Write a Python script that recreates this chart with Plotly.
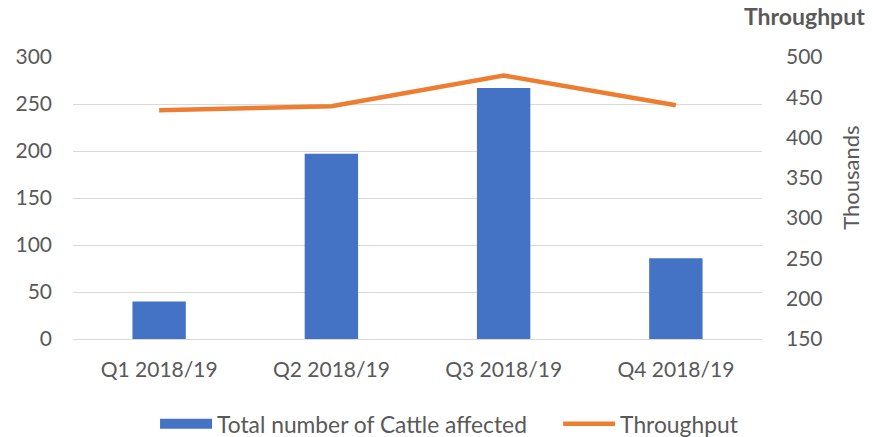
import plotly.graph_objects as go

categories = ["Q1 2018/19", "Q2 2018/19", "Q3 2018/19", "Q4 2018/19"]
cattle_affected = [40, 197, 267, 86]
throughput_thousands = [434, 439, 477, 440]

GREY = "#595959"
FONT = "Lato"
BLUE = "#4472C4"
ORANGE = "#ED7D31"

fig = go.Figure()
fig.add_trace(go.Bar(
    x=categories, y=cattle_affected, name="Total number of Cattle affected",
    marker=dict(color=BLUE, line=dict(width=0)), width=0.31, yaxis="y",
    showlegend=False, legendgroup="cattle"))
# legend entry with a wide rectangular swatch for the bar series
fig.add_trace(go.Scatter(
    x=[None], y=[None], name="Total number of Cattle affected", mode="lines",
    line=dict(color=BLUE, width=13), legend="legend", legendgroup="cattle"))
fig.add_trace(go.Scatter(
    x=categories, y=throughput_thousands, name="Throughput", mode="lines",
    line=dict(color=ORANGE, width=4.5), yaxis="y2", legend="legend2"))

legend_common = dict(orientation="h", xref="container", yref="container",
                     xanchor="left", y=0.0297, yanchor="middle",
                     font=dict(size=22.8, color=GREY), itemwidth=52,
                     bgcolor="rgba(0,0,0,0)", borderwidth=0)

fig.update_layout(
    width=873, height=437,
    margin=dict(l=73, r=111, t=57, b=98, autoexpand=False),
    paper_bgcolor="white", plot_bgcolor="white",
    font=dict(family=FONT, size=21, color=GREY),
    showlegend=True,
    legend=dict(x=0.1776, **legend_common),
    legend2=dict(x=0.6393, **legend_common),
    xaxis=dict(showgrid=False, showline=False, ticks="", ticklabelstandoff=16, automargin=False,
               tickfont=dict(size=21, color=GREY)),
    yaxis=dict(range=[0, 300], dtick=50, showgrid=True, gridcolor="#d9d9d9", gridwidth=1.3,
               zeroline=True, zerolinecolor="#d9d9d9", zerolinewidth=1.3, automargin=False,
               showline=False, ticks="", ticklabelstandoff=20,
               tickfont=dict(size=21, color=GREY)),
    yaxis2=dict(range=[150, 500], dtick=50, overlaying="y", side="right", showgrid=False,
                zeroline=False, showline=False, ticks="", ticklabelstandoff=23, automargin=False,
                tickfont=dict(size=21, color=GREY)),
    bargap=0.69,
)

fig.add_annotation(text="<b>Throughput</b>", xref="paper", yref="paper", x=1.0624, y=1.147,
                   showarrow=False, font=dict(size=23, color=GREY, family=FONT),
                   xanchor="center", yanchor="middle", borderpad=0)
fig.add_annotation(text="Thousands", xref="paper", yref="paper", x=1.129, y=0.571,
                   showarrow=False, textangle=-90, font=dict(size=22, color=GREY, family=FONT),
                   xanchor="center", yanchor="middle")

fig.write_html("out.html", config={"displayModeBar": False},
               post_script="document.body.style.margin='0';document.body.style.overflow='hidden';")
